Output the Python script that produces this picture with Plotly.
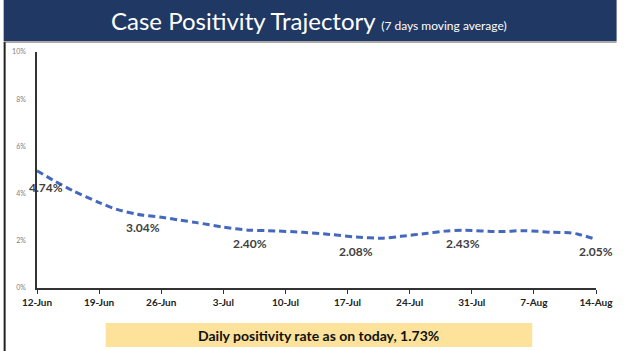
import plotly.graph_objects as go

# ---- data ----
dates = ["2020-06-12", "2020-06-14", "2020-06-16", "2020-06-19", "2020-06-21", "2020-06-23",
         "2020-06-24", "2020-06-26", "2020-06-28", "2020-06-30", "2020-07-03", "2020-07-06",
         "2020-07-08", "2020-07-12", "2020-07-15", "2020-07-18", "2020-07-21", "2020-07-23",
         "2020-07-26", "2020-07-28", "2020-07-30", "2020-08-03", "2020-08-06", "2020-08-09",
         "2020-08-11", "2020-08-12", "2020-08-14"]
positivity = [4.97, 4.53, 4.13, 3.62, 3.33, 3.15,
              3.08, 3.00, 2.88, 2.77, 2.58, 2.45,
              2.43, 2.36, 2.27, 2.16, 2.11, 2.19,
              2.32, 2.41, 2.45, 2.39, 2.43, 2.36,
              2.34, 2.28, 2.06]

label_dates = ["2020-06-12", "2020-06-24", "2020-07-06", "2020-07-18", "2020-07-30", "2020-08-14"]
label_texts = ["4.74%", "3.04%", "2.40%", "2.08%", "2.43%", "2.05%"]
label_xshift = [9, 0, 0, 0, 0, 0]
label_yshift = [-17, -12, -13, -14, -13, -12]

title_main = "Case Positivity Trajectory"
title_sub = "(7 days moving average)"
footer_text = "Daily positivity rate as on today, 1.73%"

# ---- figure geometry ----
W, H = 625, 351
ML, MR, MT, MB = 34, 21, 52, 63
plot_h = H - MT - MB

def py(y_px):
    # pixel row -> paper y
    return (H - MB - y_px) / plot_h

def px(x_px):
    return (x_px - ML) / (W - ML - MR)

lookup = dict(zip(dates, positivity))

fig = go.Figure()
fig.add_trace(go.Scatter(
    x=dates, y=positivity, mode="lines",
    line=dict(color="#4468BE", width=3, dash="7px,4px", shape="spline", smoothing=0.8),
    hoverinfo="skip", showlegend=False,
))

shapes = [
    # header band
    dict(type="rect", xref="paper", yref="paper", x0=px(0), x1=px(W), y0=py(41), y1=py(0),
         fillcolor="#1F3864", line=dict(width=0), layer="below"),
    # frame lines (left and top)
    dict(type="line", xref="paper", yref="paper", x0=px(1), x1=px(1), y0=py(42), y1=py(H),
         line=dict(color="#222222", width=2)),
    dict(type="line", xref="paper", yref="paper", x0=px(0), x1=px(W), y0=py(42), y1=py(42),
         line=dict(color="#555555", width=1)),
    # footer box
    dict(type="rect", xref="paper", yref="paper", x0=px(104), x1=px(539), y0=py(347), y1=py(323),
         fillcolor="#FDE29B", line=dict(width=0), layer="below"),
]

annotations = [
    dict(xref="paper", yref="paper", x=px(311), y=py(21), xanchor="center", yanchor="middle",
         showarrow=False,
         text=f"{title_main} <span style='font-size:12px'>{title_sub}</span>",
         font=dict(family="Lato", size=24, color="white")),
    dict(xref="paper", yref="paper", x=px(321), y=py(335), xanchor="center", yanchor="middle",
         showarrow=False, text=f"<b>{footer_text}</b>",
         font=dict(family="Lato", size=14, color="#111111")),
]
for d, t, xs, ys in zip(label_dates, label_texts, label_xshift, label_yshift):
    annotations.append(dict(
        x=d, y=lookup[d], xref="x", yref="y", text=f"<b>{t}</b>", showarrow=False,
        xanchor="center", yanchor="middle", xshift=xs, yshift=ys,
        font=dict(family="Lato", size=12, color="#404040"),
    ))

fig.update_layout(
    width=W, height=H,
    margin=dict(l=ML, r=MR, t=MT, b=MB),
    paper_bgcolor="white", plot_bgcolor="white",
    shapes=shapes, annotations=annotations,
    xaxis=dict(
        type="date", range=["2020-06-12", "2020-08-14"],
        tick0="2020-06-12", dtick=7 * 24 * 3600 * 1000, tickformat="%-d-%b",
        showgrid=False, zeroline=False,
        showline=True, linecolor="#333333", linewidth=1.5,
        ticks="outside", ticklen=4, tickcolor="#333333",
        tickfont=dict(family="Lato", size=10, color="#222222", weight="bold"),
        fixedrange=True,
    ),
    yaxis=dict(
        range=[0, 10], tickvals=[0, 2, 4, 6, 8, 10],
        ticktext=["0%", "2%", "4%", "6%", "8%", "10%"],
        showgrid=False, zeroline=False,
        showline=True, linecolor="#333333", linewidth=1.5,
        ticks="", ticklabelstandoff=8,
        tickfont=dict(family="Lato", size=7, color="#808080"),
        fixedrange=True,
    ),
)

fig.write_html("out.html")
